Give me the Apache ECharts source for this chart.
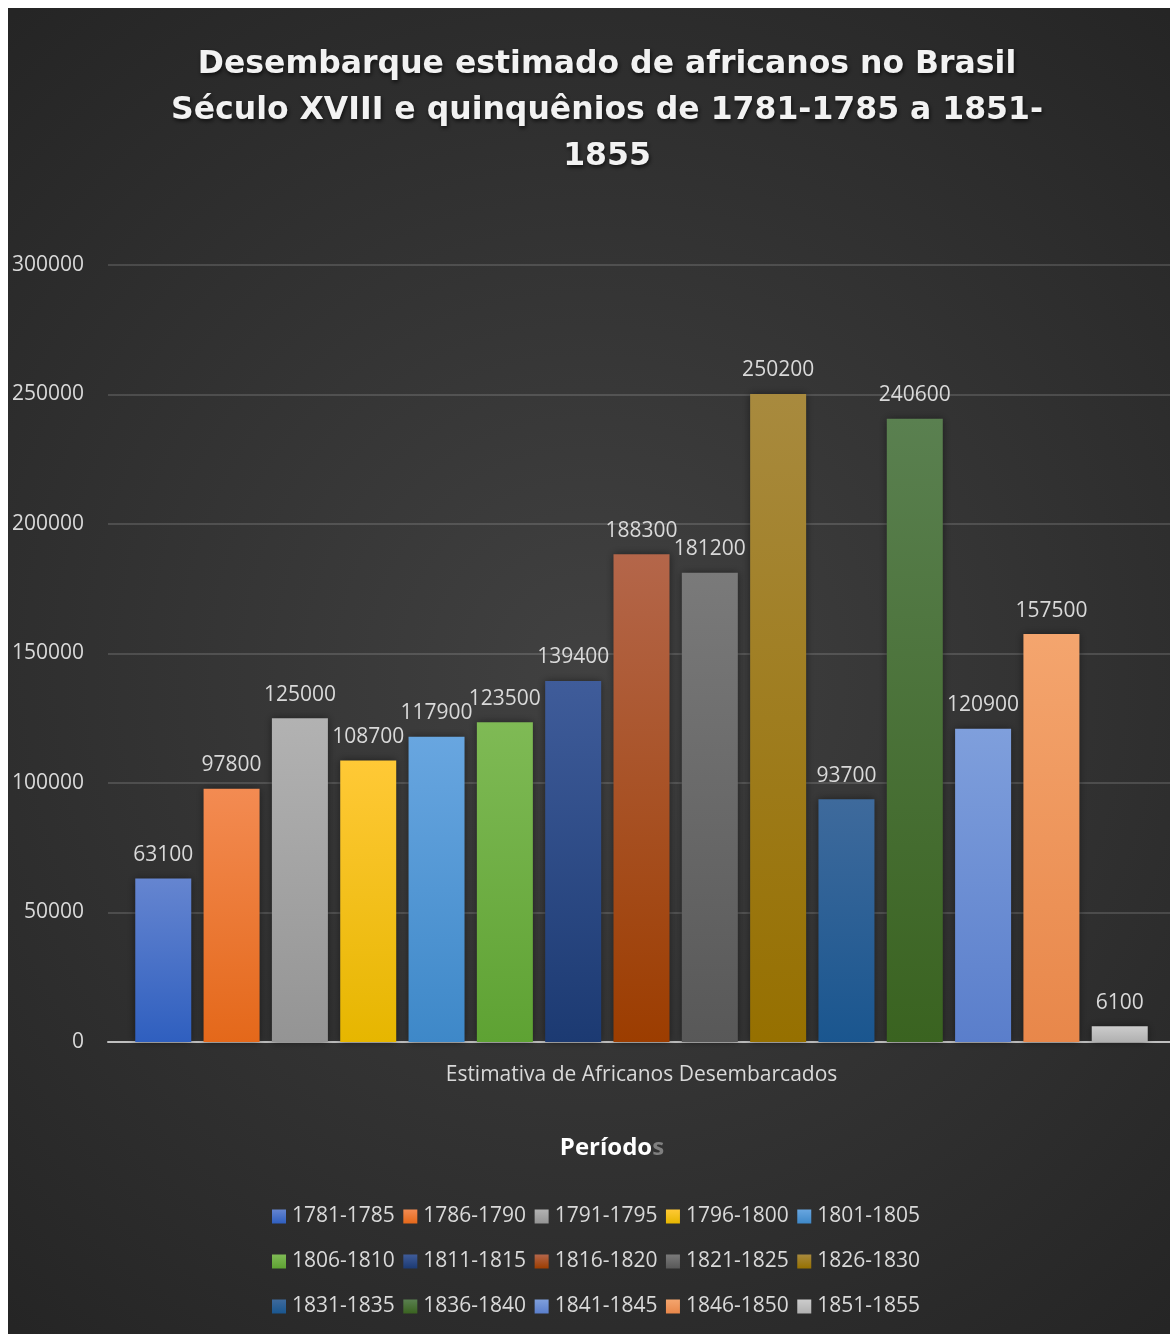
<!DOCTYPE html>
<html><head><meta charset="utf-8">
<script src="https://cdn.jsdelivr.net/npm/echarts@6/dist/echarts.min.js"></script>
<style>
html,body{margin:0;padding:0;background:#fff;overflow:hidden;width:1170px;height:1334px;}
#c{position:absolute;left:8px;top:8px;width:1167px;height:1326px;}
</style></head>
<body><div id="c"></div>
<script>
const periods = ['1781-1785','1786-1790','1791-1795','1796-1800','1801-1805','1806-1810','1811-1815','1816-1820','1821-1825','1826-1830','1831-1835','1836-1840','1841-1845','1846-1850','1851-1855'];
const values = [63100, 97800, 125000, 108700, 117900, 123500, 139400, 188300, 181200, 250200, 93700, 240600, 120900, 157500, 6100];
const category = ['Estimativa de Africanos Desembarcados'];
const yTicks = [0, 50000, 100000, 150000, 200000, 250000, 300000];

const topColors = ['#6585d0','#f38b52','#b2b2b2','#ffc936','#68a6e0','#7fba55','#3f5c9a','#b4664a','#7a7a7a','#a88a3e','#3e6a9c','#5a8050','#7f9fdc','#f4a56e','#cccccc'];
const botColors = ['#2f5fbf','#e4681a','#949494','#e6b600','#3e88c8','#5ea233','#1c3a72','#9c3d00','#585858','#967000','#1a568f','#3a6320','#5a7ecb','#e8874a','#b0b0b0'];

const FONT = '"Open Sans", "Noto Sans", sans-serif';
const chart = echarts.init(document.getElementById('c'));

const series = periods.map((p, i) => ({
  name: p,
  type: 'bar',
  data: [values[i]],
  barWidth: 56,
  barGap: '22%',
  itemStyle: {
    color: new echarts.graphic.LinearGradient(0, 0, 0, 1, [
      {offset: 0, color: topColors[i]}, {offset: 1, color: botColors[i]}
    ]),
    shadowColor: 'rgba(0,0,0,0.45)', shadowBlur: 8
  },
  label: {
    show: true, position: 'top', distance: 13,
    color: '#d9d9d9', fontSize: 21, fontFamily: FONT
  }
}));

function legendRow(items, top) {
  return {
    data: items, left: 264, top: top, orient: 'horizontal',
    itemWidth: 14, itemHeight: 14, itemGap: 8.5, icon: 'rect', padding: 0,
    textStyle: {color: '#d9d9d9', fontSize: 21, fontFamily: FONT, padding: [0,0,0,1]}
  };
}

chart.setOption({
  backgroundColor: new echarts.graphic.RadialGradient(0.5, 0.5, 0.75, [
    {offset: 0, color: '#414141'}, {offset: 1, color: '#252525'}
  ]),
  title: [{
    text: 'Desembarque estimado de africanos no Brasil\nSéculo XVIII e quinquênios de 1781-1785 a 1851-\n1855',
    left: 599, top: 34, textAlign: 'center', padding: 0,
    textStyle: {
      color: '#f2f2f2', fontSize: 31.5, fontWeight: 'bold', fontFamily: '"DejaVu Sans", sans-serif',
      lineHeight: 46, align: 'center',
      textShadowColor: 'rgba(0,0,0,0.7)', textShadowBlur: 4, textShadowOffsetX: 1, textShadowOffsetY: 2
    }
  }, {
    text: '{a|Período}{b|s}',
    left: 604, top: 1125, textAlign: 'center', padding: 0,
    textStyle: {
      rich: {
        a: {color: '#ffffff', fontSize: 24, fontWeight: 'bold', fontFamily: FONT, lineHeight: 30},
        b: {color: '#7f7f7f', fontSize: 24, fontWeight: 'bold', fontFamily: FONT, lineHeight: 30}
      }
    }
  }],
  legend: [
    legendRow(periods.slice(0,5), 1198),
    legendRow(periods.slice(5,10), 1243),
    legendRow(periods.slice(10,15), 1288)
  ],
  grid: {left: 100, right: 0, top: 257, bottom: 292, containLabel: false},
  xAxis: {
    type: 'category', data: category,
    axisLine: {lineStyle: {color: '#bfbfbf', width: 2}},
    axisTick: {show: false},
    axisLabel: {color: '#d9d9d9', fontSize: 21, fontFamily: FONT, margin: 23}
  },
  yAxis: {
    type: 'value', min: yTicks[0], max: yTicks[yTicks.length-1], interval: 50000,
    axisLine: {show: false}, axisTick: {show: false},
    axisLabel: {color: '#d9d9d9', fontSize: 21, fontFamily: FONT, margin: 24,
      formatter: v => String(v)},
    splitLine: {lineStyle: {color: 'rgba(255,255,255,0.14)', width: 2}}
  },
  series: series
});
</script></body></html>
